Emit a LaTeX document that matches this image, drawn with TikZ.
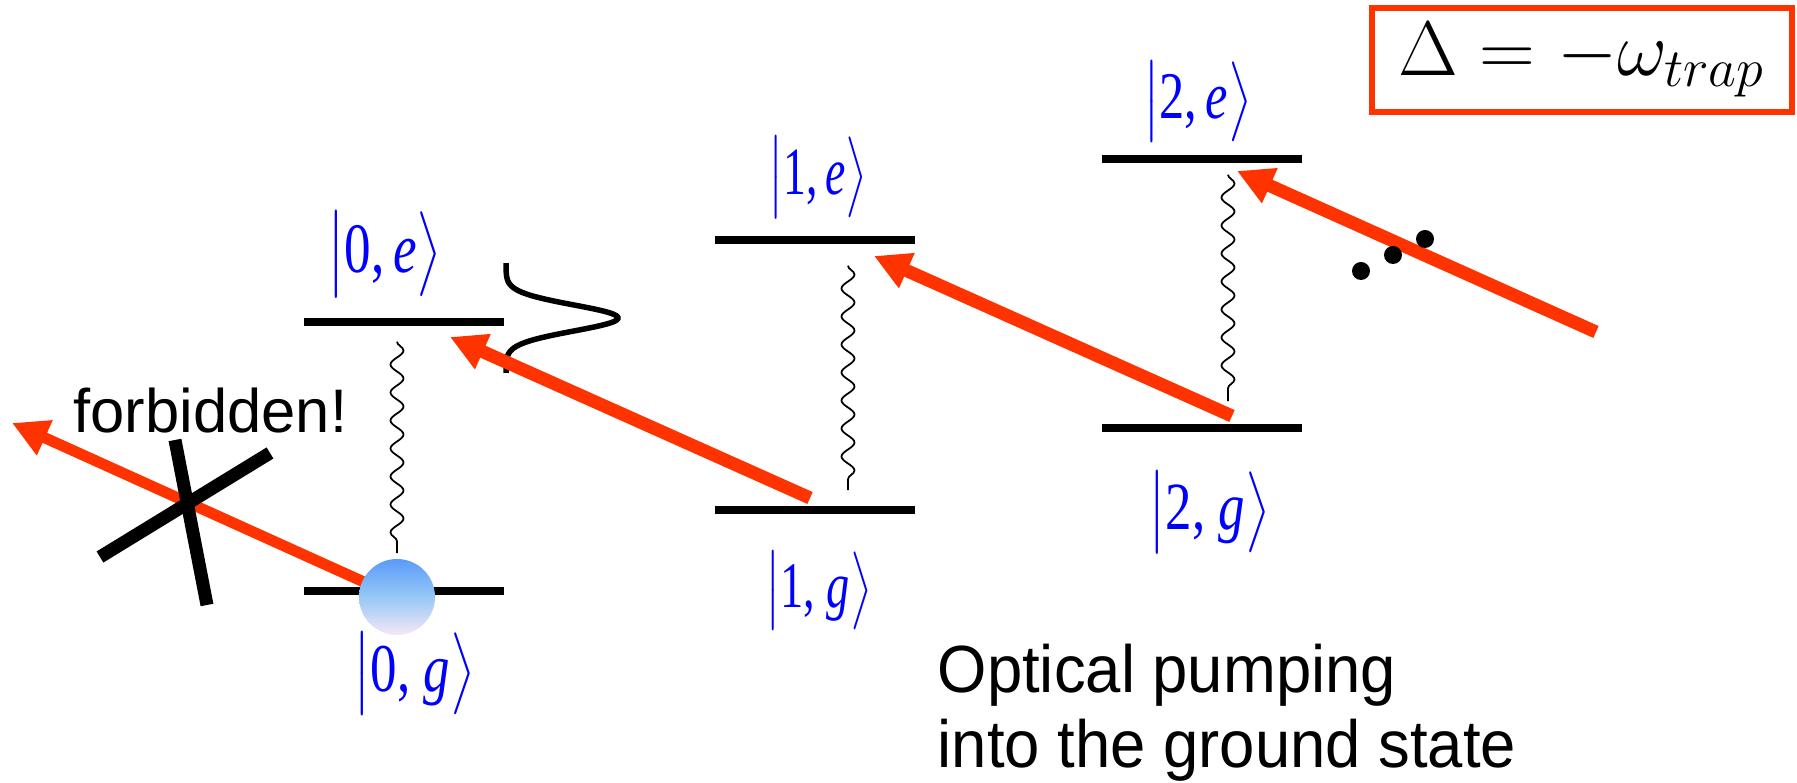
\RequirePackage{fix-cm}
\documentclass[tikz,border=0pt]{standalone}
\usepackage{graphicx}
\usepackage{fontspec}
\usepackage{xcolor}
\usepackage{tikz}
\usetikzlibrary{arrows.meta,decorations.pathmorphing,positioning}
\newfontfamily\sansfb{Liberation Sans}
\newfontfamily\narrowsf[FakeStretch=0.95]{Liberation Sans}
\newfontfamily\tms{Liberation Serif}
\definecolor{pumpred}{RGB}{255,51,0}
\definecolor{balltop}{RGB}{90,155,250}
\definecolor{ballmid}{RGB}{150,200,245}
\definecolor{ballbot}{RGB}{245,232,245}
\delimiterfactor=1000
\delimitershortfall=0pt
% ket label squeezed to the box it fills in the figure
\newcommand{\ketlbl}[3]{\resizebox*{#1}{#2}{$\left|\rule[-3.2pt]{0pt}{11.4pt}\mbox{\tms #3}\right\rangle$}}

\begin{document}
\begin{tikzpicture}[
    lvl/.style={fill=black, minimum width=2cm, minimum height=0.075cm,
                inner sep=0pt, outer sep=0pt},
    ket/.style={text=blue, inner sep=0pt},
    decay/.style={decorate, decoration={snake, amplitude=0.065cm,
                  segment length=0.28cm}, line width=0.5pt},
    pump/.style={draw=pumpred, line width=0.13cm,
                 -{Triangle[length=0.36cm, width=0.36cm]}},
    xbar/.style={line width=0.13cm},
]
\useasboundingbox (0,0) rectangle (17.97,7.83);
% Levels: ground and excited, three trap states
\node[lvl] (g0) at (4.04,1.92) {};
\node[lvl] (e0) at (4.04,4.61) {};
\node[lvl] (g1) at (8.15,2.73) {};
\node[lvl] (e1) at (8.15,5.43) {};
\node[lvl] (g2) at (12.02,3.55) {};
\node[lvl] (e2) at (12.02,6.24) {};
% Arrow end points
\coordinate (atom) at (3.97,1.86);
\coordinate (fb) at (0.12,3.60);
\coordinate (b1) at (8.10,2.85);
\coordinate (t0) at (4.50,4.46);
\coordinate (b2) at (12.32,3.67);
\coordinate (t1) at (8.74,5.27);
\coordinate (b3) at (15.96,4.51);
\coordinate (t2) at (12.37,6.12);
% Spontaneous decay
\draw[decay] ([xshift=-0.07cm, yshift=-0.16cm]e0.south) -- ([xshift=-0.07cm, yshift=0.34cm]g0.north);
\draw[decay] ([xshift=0.33cm, yshift=-0.22cm]e1.south) -- ([xshift=0.33cm, yshift=0.16cm]g1.north);
\draw[decay] ([xshift=0.26cm, yshift=-0.12cm]e2.south) -- ([xshift=0.26cm, yshift=0.23cm]g2.north);
% Line profile
\draw[line width=0.055cm] plot[domain=-0.55:0.55, samples=80, smooth]
    ({5.06+1.12*exp(-(\x*\x)/0.0338)}, {4.65+\x});
% Pumping beams
\draw[pump] (b1) -- (t0);
\draw[pump] (b2) -- (t1);
\draw[pump] (b3) -- (t2);
\draw[pump, line width=0.11cm] (atom) -- (fb);
% Cross over the forbidden one
\draw[xbar] (1.00,2.26) -- (2.70,3.30);
\draw[xbar] (1.75,3.43) -- (2.07,1.78);
% Atom
\node[circle, minimum size=0.76cm, inner sep=0pt, top color=balltop,
      bottom color=ballbot, middle color=ballmid] (ball) at (atom) {};
% Dots
\fill (13.61,5.12) circle (0.09);
\fill (13.93,5.28) circle (0.09);
\fill (14.25,5.44) circle (0.09);
% State labels
\node[ket] (k0e) at (3.845,5.285) {\ketlbl{1.15cm}{0.85cm}{0,\,\textit{e}}};
\node[ket] (k0g) at (4.14,1.09)   {\ketlbl{1.22cm}{0.82cm}{0, \textit{g}}};
\node[ket] (k1e) at (8.175,6.055) {\ketlbl{0.99cm}{0.81cm}{1,\,\textit{e}}};
\node[ket] (k1g) at (8.185,1.92)  {\ketlbl{1.07cm}{0.78cm}{1, \textit{g}}};
\node[ket] (k2e) at (11.975,6.81) {\ketlbl{1.09cm}{0.80cm}{2,\,\textit{e}}};
\node[ket] (k2g) at (12.09,2.705) {\ketlbl{1.22cm}{0.81cm}{2, \textit{g}}};
% Texts
\node[anchor=base west, inner sep=0pt, font=\sansfb\fontsize{17.5}{21}\selectfont]
    (forbid) at (0.73,3.50) {forbidden!};
\node[anchor=base west, inner sep=0pt, font=\narrowsf\fontsize{19}{24}\selectfont]
    (pumpa) at (9.37,0.90) {Optical pumping};
\node[anchor=base west, inner sep=0pt, font=\narrowsf\fontsize{19}{24}\selectfont]
    (pumpb) at (9.37,0.15) {into the ground state};
% Detuning box
\node[draw=pumpred, line width=0.06cm, minimum width=4.2cm, minimum height=1.04cm,
      font=\fontsize{22}{26}\selectfont] (detuning) at (15.82,7.23)
    {$\Delta = -\omega_{trap}$};
\end{tikzpicture}
\end{document}
